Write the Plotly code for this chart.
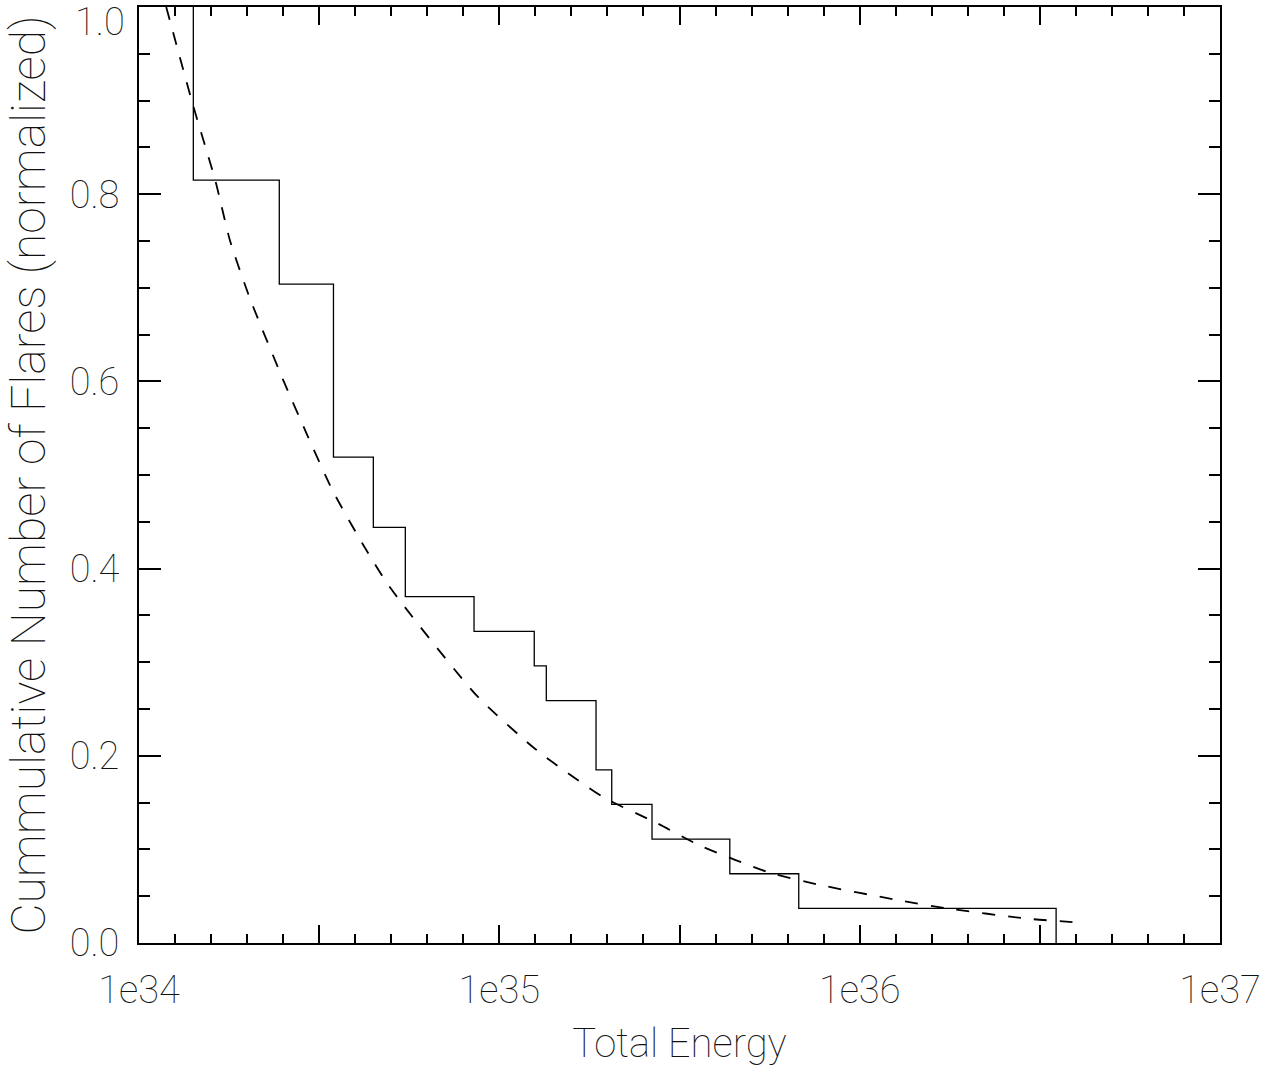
import plotly.graph_objects as go

# Flare energies (erg) at which the cumulative count steps down
step_energy = [1.415e34, 2.451e34, 3.465e34, 4.470e34, 5.484e34, 8.507e34,
               1.250e35, 1.350e35, 1.855e35, 2.051e35, 2.653e35, 4.361e35,
               6.776e35, 3.509e36]
# Normalized cumulative number of flares after each step
step_level = [0.815, 0.704, 0.519, 0.444, 0.370, 0.333, 0.296, 0.259,
              0.185, 0.148, 0.111, 0.074, 0.037, 0.0]

# Power-law fit to the cumulative distribution
fit_energy = [1.19e34, 1.41e34, 1.63e34, 1.79e34, 2.03e34, 2.51e34, 2.92e34,
              3.45e34, 4.18e34, 4.97e34, 8.67e34, 1.27e35, 1.94e35, 2.74e35,
              3.61e35, 5.64e35, 7.76e35, 1.27e36, 1.75e36, 2.92e36, 4.01e36]
fit_level = [1.000, 0.896, 0.814, 0.750, 0.689, 0.602, 0.544, 0.483, 0.426,
             0.380, 0.264, 0.206, 0.156, 0.128, 0.104, 0.075, 0.062, 0.046,
             0.037, 0.026, 0.022]

x_major = [1e34, 10**34.5, 1e35, 10**35.5, 1e36, 10**36.5, 1e37]
x_major_text = ["1e34", "", "1e35", "", "1e36", "", "1e37"]
x_minor = [10 ** (34 + k / 10) for k in range(31) if k % 5 != 0]

y_major = [0.0, 0.2, 0.4, 0.6, 0.8, 1.0]
y_major_text = ["0.0", "0.2", "0.4", "0.6", "0.8", ""]
y_top_label = "1.0"

FONT = "Roboto"
TXT = "#111111"
W = 100

fig = go.Figure()

fig.add_trace(go.Scatter(
    x=[step_energy[0]] + step_energy,
    y=[1.0] + step_level,
    mode="lines",
    line=dict(color="black", width=1.3, shape="hv"),
    showlegend=False,
))

fig.add_trace(go.Scatter(
    x=fit_energy,
    y=fit_level,
    mode="lines",
    line=dict(color="black", width=1.8, dash="13px,13px", shape="spline", smoothing=0.6),
    showlegend=False,
))

# top label sits just inside the frame, below its tick
fig.add_annotation(
    x=0, xref="paper", xanchor="right", xshift=-12,
    y=1.0, yref="y", yanchor="middle", yshift=-15,
    text=y_top_label, showarrow=False,
    font=dict(size=38, family=FONT, color=TXT, weight=W),
)

fig.update_layout(
    width=1278,
    height=1072,
    margin=dict(l=139, r=58, t=5, b=129),
    paper_bgcolor="white",
    plot_bgcolor="white",
    font=dict(family=FONT, color=TXT, weight=W),
    xaxis=dict(
        type="log",
        range=[34, 37],
        showgrid=False,
        zeroline=False,
        showline=True,
        linecolor="black",
        linewidth=2,
        mirror="ticks",
        ticks="inside",
        ticklen=18,
        tickwidth=2,
        tickcolor="black",
        tickmode="array",
        tickvals=x_major,
        ticktext=x_major_text,
        tickfont=dict(size=38, family=FONT, color=TXT, weight=W),
        ticklabelstandoff=12,
        minor=dict(ticks="inside", ticklen=9, tickwidth=2, tickcolor="black",
                   tickmode="array", tickvals=x_minor, showgrid=False),
        title=dict(text="Total Energy", font=dict(size=40, family=FONT, color=TXT, weight=W),
                   standoff=18),
    ),
    yaxis=dict(
        range=[0, 1.00001],
        showgrid=False,
        zeroline=False,
        showline=True,
        linecolor="black",
        linewidth=2,
        mirror="ticks",
        ticks="inside",
        ticklen=22,
        tickwidth=2,
        tickcolor="black",
        tickmode="array",
        tickvals=y_major,
        ticktext=y_major_text,
        tickfont=dict(size=38, family=FONT, color=TXT, weight=W),
        ticklabelstandoff=10,
        minor=dict(ticks="inside", ticklen=11, tickwidth=2, tickcolor="black",
                   dtick=0.05, showgrid=False),
        title=dict(text="Cummulative Number of Flares (normalized)",
                   font=dict(size=48, family=FONT, color=TXT, weight=W),
                   standoff=14),
    ),
)

fig.write_html("out.html")
